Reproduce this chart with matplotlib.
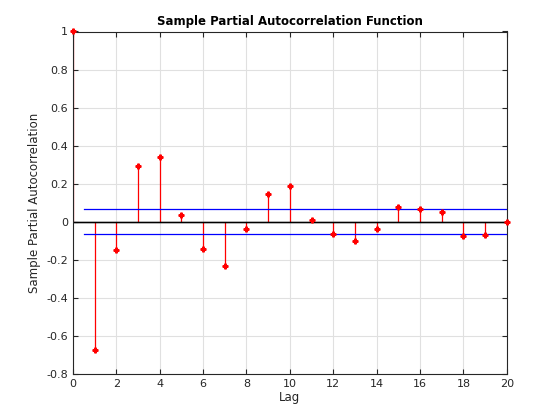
import numpy as np
import matplotlib
matplotlib.use('Agg')
import matplotlib.pyplot as plt

# lags and sample partial autocorrelation values
lags = list(range(0, 21))
pacf = [1.0, -0.675, -0.15, 0.295, 0.342, 0.033, -0.145, -0.235, -0.04, 0.144,
        0.186, 0.011, -0.063, -0.104, -0.037, 0.079, 0.069, 0.049, -0.078, -0.069, 0.0]
bound = 0.064
x_ticks = list(range(0, 21, 2))
y_ticks = [-0.8, -0.6, -0.4, -0.2, 0, 0.2, 0.4, 0.6, 0.8, 1]

plt.rcParams['font.family'] = 'DejaVu Sans'
fig = plt.figure(figsize=(5.6, 4.2), dpi=100)
ax = fig.add_axes([0.13, 0.11, 0.775, 0.815])

ax.grid(True, color='#e0e0e0', linewidth=0.8)
ax.set_axisbelow(True)

ml, sl, bl = ax.stem(lags, pacf, linefmt='r-', markerfmt='rP', basefmt='k-')
sl.set_linewidth(0.9)
ml.set_markersize(3.5)
ml.set_clip_on(False)
ml.set_zorder(5)
bl.set_linewidth(1.0)
bl.set_xdata([0, 20])

ax.plot([0.5, 20], [bound, bound], color='#0000ff', linewidth=0.9)
ax.plot([0.5, 20], [-bound, -bound], color='#0000ff', linewidth=0.9)
ax.axhline(0, color='k', linewidth=0.9)

ax.set_xlim(0, 20)
ax.set_ylim(-0.8, 1)
ax.set_xticks(x_ticks)
ax.set_yticks(y_ticks)
ax.set_yticklabels(['-0.8', '-0.6', '-0.4', '-0.2', '0', '0.2', '0.4', '0.6', '0.8', '1'])
ax.tick_params(direction='in', top=True, right=True, labelsize=8, colors='#262626', length=3.5)
for s in ax.spines.values():
    s.set_color('#262626')
    s.set_linewidth(0.8)

ax.set_xlabel('Lag', fontsize=8.5, color='#262626', labelpad=2)
ax.set_ylabel('Sample Partial Autocorrelation', fontsize=8.5, color='#262626')
ax.set_title('Sample Partial Autocorrelation Function', fontsize=8.5, fontweight='bold', pad=5)

fig.savefig('out.png', dpi=100)
